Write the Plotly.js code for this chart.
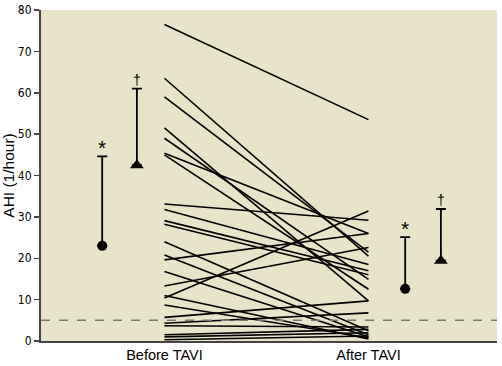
<!DOCTYPE html>
<html>
<head>
<meta charset="utf-8">
<script src="https://cdn.plot.ly/plotly-3.0.1.min.js"></script>
<style>
  html, body { margin: 0; padding: 0; background: #fff; }
  #chart { width: 502px; height: 366px; }
</style>
</head>
<body>
<div id="chart"></div>
<script>
// Paired AHI values per patient (events per hour)
const categories = ["Before TAVI", "After TAVI"];
const ahiBefore = [76.5, 63.5, 59.0, 51.5, 49.0, 45.4, 45.0, 33.1, 31.8, 29.1, 28.2, 24.0, 20.8,
                   19.6, 16.8, 13.3, 11.0, 10.4, 8.7, 5.7, 4.3, 3.7, 1.5, 1.0, 0.3];
const ahiAfter  = [53.5, 20.5, 21.5, 9.7, 14.9, 26.0, 12.5, 29.2, 18.5, 17.0, 16.0, 2.5, 1.5,
                   26.0, 1.0, 22.6, 0.5, 31.4, 0.8, 9.7, 6.8, 3.4, 2.8, 2.0, 1.2];

// Group summaries (mean + SD), before / after
const circleMean = [23.0, 12.6];
const circleSD   = [21.6, 12.5];
const triMean    = [42.5, 19.4];
const triSD      = [18.5, 12.5];
const circleMark = "*";
const triMark    = "\u2020";

const threshold = 5;

const font = "'Liberation Sans', Arial, sans-serif";
const narrow = "'DejaVu Sans Condensed', 'Liberation Sans Narrow', sans-serif";
const catX = categories.map((c, i) => i);

const traces = [];

// one line per patient
ahiBefore.forEach((b, i) => {
  traces.push({
    x: catX, y: [b, ahiAfter[i]], type: "scatter", mode: "lines",
    line: { color: "#000", width: 1.6 }, hoverinfo: "skip", showlegend: false
  });
});

// summaries sit to the left of the before column and right of the after column
const circleX = [catX[0] - 0.305, catX[1] + 0.18];
const triX    = [catX[0] - 0.135, catX[1] + 0.355];

traces.push({
  x: circleX, y: circleMean, type: "scatter", mode: "markers",
  marker: { symbol: "circle", size: 10, color: "#000" },
  error_y: { type: "data", symmetric: false, array: circleSD, arrayminus: [0, 0],
             color: "#000", thickness: 1.8, width: 5 },
  showlegend: false
});
traces.push({
  x: triX, y: triMean, type: "scatter", mode: "markers",
  marker: { symbol: "triangle-up", size: 12, color: "#000" },
  error_y: { type: "data", symmetric: false, array: triSD, arrayminus: [0, 0],
             color: "#000", thickness: 1.8, width: 5 },
  showlegend: false
});

const annotations = [];
circleX.forEach((x, i) => annotations.push({
  x: x, y: circleMean[i] + circleSD[i], text: circleMark, showarrow: false,
  yanchor: "bottom", yshift: -5, font: { family: font, size: 21, color: "#000" }
}));
triX.forEach((x, i) => annotations.push({
  x: x, y: triMean[i] + triSD[i], text: triMark, showarrow: false,
  yanchor: "bottom", yshift: -1, font: { family: font, size: 14, color: "#000" }
}));

const layout = {
  width: 502, height: 366,
  margin: { l: 41, r: 5, t: 10, b: 25 },
  paper_bgcolor: "#ffffff",
  plot_bgcolor: "#e8e4c9",
  showlegend: false,
  font: { family: font, size: 11, color: "#000" },
  xaxis: {
    range: [-0.605, 1.63], tickvals: catX, ticktext: categories,
    showgrid: false, zeroline: false, ticks: "",
    showline: true, linecolor: "#444", linewidth: 2,
    tickfont: { family: font, size: 14.5, color: "#000" }
  },
  yaxis: {
    range: [0, 80], dtick: 10, showgrid: false, zeroline: false,
    ticks: "outside", ticklen: 5, tickwidth: 1.5, tickcolor: "#444",
    showline: true, linecolor: "#444", linewidth: 2,
    tickfont: { family: narrow, size: 12, color: "#000" },
    title: { text: "AHI (1/hour)", font: { family: font, size: 15.5, color: "#000" }, standoff: 5 }
  },
  shapes: [{
    type: "line", xref: "paper", x0: 0, x1: 1, yref: "y", y0: threshold, y1: threshold,
    line: { color: "#777", width: 1.5, dash: "dash" }, layer: "above"
  }],
  annotations: annotations
};

Plotly.newPlot("chart", traces, layout, { displayModeBar: false, staticPlot: true });
</script>
</body>
</html>
